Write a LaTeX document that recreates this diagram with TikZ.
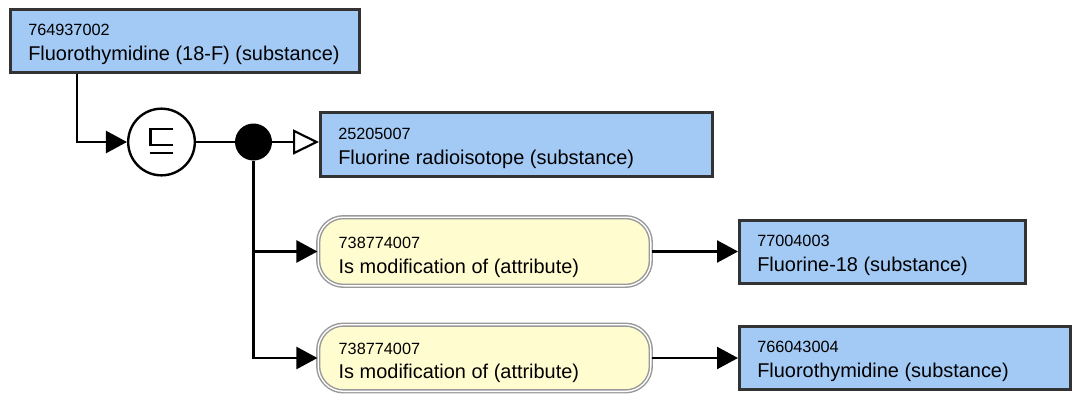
\documentclass[tikz,border=0pt]{standalone}
\usepackage{fontspec}
\setmainfont{Liberation Sans}
\usetikzlibrary{arrows.meta}
\definecolor{conceptblue}{RGB}{163,201,245}
\definecolor{attryellow}{RGB}{255,253,208}
\definecolor{boxline}{RGB}{51,51,51}

\begin{document}
\begin{tikzpicture}[x=0.75pt, y=-0.75pt,
  concept/.style={draw=boxline, line width=2pt, fill=conceptblue, minimum height=47.5pt, inner sep=0pt},
  attrib/.style={draw=gray!80, line width=1.1pt, double=white, double distance=1pt, fill=attryellow, rounded corners=19pt, minimum width=249.5pt, inner sep=0pt},
  sctid/.style={anchor=base west, inner sep=0pt, font=\fontsize{12.2}{14}\selectfont},
  fsn/.style={anchor=base west, inner sep=0pt, font=\fontsize{14.95}{18}\selectfont},
  conn/.style={line width=1.8pt, -{Triangle[length=15.75pt, width=16.5pt]}},
]
  \useasboundingbox (0,0) rectangle (1075,394);

  \node[concept, minimum width=262pt] (fthy18) at (185,41) {};
  \node[sctid] (fthy18-id) at ([shift={(19,27)}]fthy18.north west) {764937002};
  \node[fsn] (fthy18-fsn) at ([shift={(19,52)}]fthy18.north west) {Fluorothymidine (18-F) (substance)};

  \node[circle, draw, line width=1.8pt, fill=white, minimum size=50pt, inner sep=0pt] (subs) at (161.5,142) {};
  \draw[line width=1.7pt] ([shift={(11,-13)}]subs.center) -- ++(-22,0) -- ++(0,16) -- ++(22,0);
  \draw[line width=1.7pt] ([shift={(-12,11)}]subs.center) -- ++(23,0);
  \node[circle, fill=black, minimum size=27.75pt, inner sep=0pt] (conj) at (253.5,142) {};

  \node[concept, minimum width=294.25pt, minimum height=48.25pt] (radio) at (516.5,144.5) {};
  \node[sctid] (radio-id) at ([shift={(19,28)}]radio.north west) {25205007};
  \node[fsn] (radio-fsn) at ([shift={(19,53)}]radio.north west) {Fluorine radioisotope (substance)};

  \node[attrib, minimum height=51.5pt] (modif1) at (484.5,251.5) {};
  \node[sctid] (modif1-id) at ([shift={(21,32)}]modif1.north west) {738774007};
  \node[fsn] (modif1-fsn) at ([shift={(21,57)}]modif1.north west) {Is modification of (attribute)};

  \node[attrib, minimum height=50pt] (modif2) at (484.5,358) {};
  \node[sctid] (modif2-id) at ([shift={(21,31)}]modif2.north west) {738774007};
  \node[fsn] (modif2-fsn) at ([shift={(21,55)}]modif2.north west) {Is modification of (attribute)};

  \node[concept, minimum width=214.75pt] (f18) at (882.5,252) {};
  \node[sctid] (f18-id) at ([shift={(19,27)}]f18.north west) {77004003};
  \node[fsn] (f18-fsn) at ([shift={(19,52)}]f18.north west) {Fluorine-18 (substance)};

  \node[concept, minimum width=248.5pt] (fthy) at (905,358) {};
  \node[sctid] (fthy-id) at ([shift={(19,27)}]fthy.north west) {766043004};
  \node[fsn] (fthy-fsn) at ([shift={(19,52)}]fthy.north west) {Fluorothymidine (substance)};

  \draw[conn] ([shift={(68,0)}]fthy18.south west) |- (subs.west);
  \draw[line width=1.6pt] (subs) -- (conj);
  \draw[line width=1.6pt, -{Triangle[open, length=19.5pt, width=18.75pt, fill=white]}] (conj) -- (conj -| radio.west);
  \draw[conn] (conj.south) |- (modif1.west);
  \draw[conn] (conj.south) |- (modif2.west);
  \draw[conn] (modif1.east) -- (modif1.east -| f18.west);
  \draw[conn] (modif2.east) -- (modif2.east -| fthy.west);
\end{tikzpicture}
\end{document}
